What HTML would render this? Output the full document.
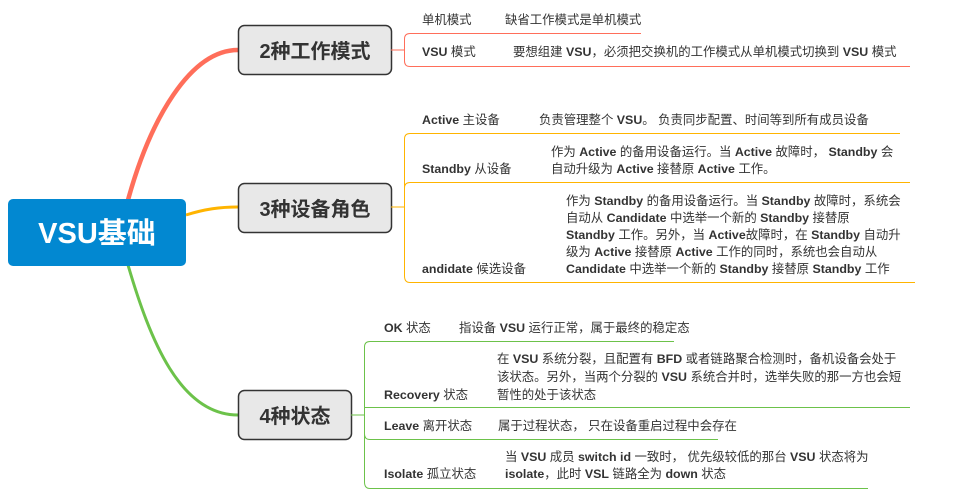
<!DOCTYPE html>
<html><head><meta charset="utf-8"><style>
body{margin:0;background:#fff;}
svg text{font-family:"Liberation Sans","Noto Sans CJK SC",sans-serif;fill:#333;}
.l{font-size:12.4px;}
.b{font-weight:bold;}
</style></head><body>
<svg width="976" height="494" viewBox="0 0 976 494" xmlns="http://www.w3.org/2000/svg">
<path d="M128 200 C150 120 190 50 238 50" stroke="#ff6e5a" stroke-width="4.5" fill="none"/>
<path d="M186 215 C205 209 220 207 238 207" stroke="#ffb400" stroke-width="3" fill="none"/>
<path d="M128 265 C150 340 180 415 238 415" stroke="#6cc24a" stroke-width="3" fill="none"/>
<rect x="8" y="199" width="178" height="67" rx="5" fill="#0288d1"/>
<text x="97" y="243" text-anchor="middle" style="font-size:29px;font-weight:bold;fill:#fff">VSU基础</text>
<rect x="238.5" y="25.5" width="153" height="49" rx="6" fill="#e8e8e8" stroke="#333" stroke-width="1.5"/>
<text x="315" y="58" text-anchor="middle" style="font-size:20px;font-weight:bold">2种工作模式</text>
<rect x="238.5" y="183.5" width="153" height="49" rx="6" fill="#e8e8e8" stroke="#333" stroke-width="1.5"/>
<text x="315" y="216" text-anchor="middle" style="font-size:20px;font-weight:bold">3种设备角色</text>
<rect x="238.5" y="390.5" width="113" height="49" rx="6" fill="#e8e8e8" stroke="#333" stroke-width="1.5"/>
<text x="295" y="423" text-anchor="middle" style="font-size:20px;font-weight:bold">4种状态</text>
<g stroke="#ff6e5a" stroke-width="1" fill="none">
<path d="M391 50 H404"/>
<path d="M641 33.5 H410 Q404.5 33.5 404.5 39 V61 Q404.5 66.5 410 66.5 H910"/>
</g>
<text class="l" x="422" y="24">单机模式</text><text class="l" x="505" y="24">缺省工作模式是单机模式</text>
<text class="l" x="422" y="56"><tspan class="b">VSU</tspan> 模式</text>
<text class="l" x="513" y="56">要想组建 <tspan class="b">VSU</tspan>，必须把交换机的工作模式从单机模式切换到 <tspan class="b">VSU</tspan> 模式</text>
<g stroke="#ffb400" stroke-width="1" fill="none">
<path d="M391 207 H404"/>
<path d="M900 133.5 H410 Q404.5 133.5 404.5 139 V276 Q404.5 282.5 410 282.5 H915"/>
<path d="M404.5 188 Q404.5 182.5 410 182.5 H910"/>
</g>
<text class="l" x="422" y="124"><tspan class="b">Active</tspan> 主设备</text>
<text class="l" x="539" y="124">负责管理整个 <tspan class="b">VSU</tspan>。 负责同步配置、时间等到所有成员设备</text>
<text class="l" x="422" y="173"><tspan class="b">Standby</tspan> 从设备</text>
<text class="l" x="551" y="156">作为 <tspan class="b">Active</tspan> 的备用设备运行。当 <tspan class="b">Active</tspan> 故障时， <tspan class="b">Standby</tspan> 会</text>
<text class="l" x="551" y="173">自动升级为 <tspan class="b">Active</tspan> 接替原 <tspan class="b">Active</tspan> 工作。</text>
<text class="l" x="422" y="273"><tspan class="b">andidate</tspan> 候选设备</text>
<text class="l" x="566" y="205">作为 <tspan class="b">Standby</tspan> 的备用设备运行。当 <tspan class="b">Standby</tspan> 故障时，系统会</text>
<text class="l" x="566" y="222">自动从 <tspan class="b">Candidate</tspan> 中选举一个新的 <tspan class="b">Standby</tspan> 接替原</text>
<text class="l" x="566" y="239"><tspan class="b">Standby</tspan> 工作。另外，当 <tspan class="b">Active</tspan>故障时，在 <tspan class="b">Standby</tspan> 自动升</text>
<text class="l" x="566" y="256">级为 <tspan class="b">Active</tspan> 接替原 <tspan class="b">Active</tspan> 工作的同时，系统也会自动从</text>
<text class="l" x="566" y="273"><tspan class="b">Candidate</tspan> 中选举一个新的 <tspan class="b">Standby</tspan> 接替原 <tspan class="b">Standby</tspan> 工作</text>
<g stroke="#6cc24a" stroke-width="1" fill="none">
<path d="M351 415 H364"/>
<path d="M674 341.5 H370 Q364.5 341.5 364.5 347 V482 Q364.5 488.5 370 488.5 H868"/>
<path d="M364.5 407.5 H910"/>
<path d="M364.5 434 Q364.5 439.5 370 439.5 H718"/>
</g>
<text class="l" x="384" y="332"><tspan class="b">OK</tspan> 状态</text>
<text class="l" x="459" y="332">指设备 <tspan class="b">VSU</tspan> 运行正常，属于最终的稳定态</text>
<text class="l" x="384" y="399"><tspan class="b">Recovery</tspan> 状态</text>
<text class="l" x="497" y="363">在 <tspan class="b">VSU</tspan> 系统分裂，且配置有 <tspan class="b">BFD</tspan> 或者链路聚合检测时，备机设备会处于</text>
<text class="l" x="497" y="381">该状态。另外，当两个分裂的 <tspan class="b">VSU</tspan> 系统合并时，选举失败的那一方也会短</text>
<text class="l" x="497" y="399">暂性的处于该状态</text>
<text class="l" x="384" y="430"><tspan class="b">Leave</tspan> 离开状态</text>
<text class="l" x="498" y="430">属于过程状态， 只在设备重启过程中会存在</text>
<text class="l" x="384" y="478"><tspan class="b">Isolate</tspan> 孤立状态</text>
<text class="l" x="505" y="461">当 <tspan class="b">VSU</tspan> 成员 <tspan class="b">switch id</tspan> 一致时， 优先级较低的那台 <tspan class="b">VSU</tspan> 状态将为</text>
<text class="l" x="505" y="478"><tspan class="b">isolate</tspan>，此时 <tspan class="b">VSL</tspan> 链路全为 <tspan class="b">down</tspan> 状态</text>
</svg>
</body></html>
